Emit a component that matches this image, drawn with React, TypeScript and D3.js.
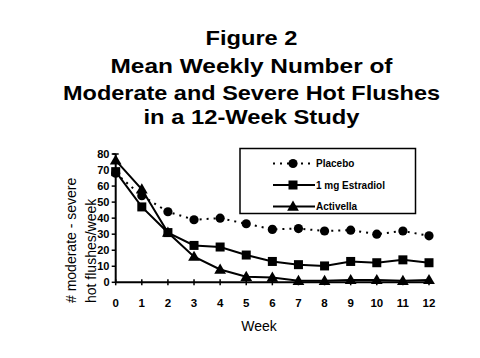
import * as d3 from 'd3';

const weeks = [0, 1, 2, 3, 4, 5, 6, 7, 8, 9, 10, 11, 12];
const placebo = [68, 54, 44, 39, 40, 36.5, 33, 33.5, 32, 32.5, 30, 32, 29];
const estradiol = [69, 47, 31, 23, 22, 17, 13, 11, 10.2, 13, 12.2, 14, 12.2];
const activella = [76, 58, 31, 16, 8, 3.5, 3, 1, 1, 1.5, 1.5, 1, 1.5];
const yTicks = [0, 10, 20, 30, 40, 50, 60, 70, 80];
const titleLines = [
  'Figure 2',
  'Mean Weekly Number of',
  'Moderate and Severe Hot Flushes',
  'in a 12-Week Study',
];
const legendLabels = ['Placebo', '1 mg Estradiol', 'Activella'];

const x = d3.scaleLinear().domain([0, 12]).range([115.7, 429]);
const y = d3.scaleLinear().domain([0, 80]).range([282.3, 154]);

const line = d3
  .line<number>()
  .x((_, i) => x(weeks[i]))
  .y((d) => y(d));

function Marker({ kind, cx, cy }: { kind: string; cx: number; cy: number }) {
  if (kind === 'circle') return <circle cx={cx} cy={cy} r={4.6} fill="#000" />;
  if (kind === 'square')
    return <rect x={cx - 4.5} y={cy - 4.5} width={9} height={9} fill="#000" />;
  const tri = d3.symbol(d3.symbolTriangle, 60)()!;
  return <path d={tri} transform={`translate(${cx},${cy + 0.8})`} fill="#000" />;
}

const series = [
  { data: placebo, kind: 'circle', dash: '2,5' },
  { data: estradiol, kind: 'square', dash: undefined },
  { data: activella, kind: 'triangle', dash: undefined },
];

export default function App() {
  const titleY = [45, 72.5, 99.5, 124];
  const titleSize = [20, 20.5, 20.5, 20.5];
  const titleWidth = [92, 282, 377, 216];
  const legendY = [163.5, 185, 206.5];
  const font = "'Liberation Sans', Arial, sans-serif";
  return (
    <svg
      width={480}
      height={358}
      style={{ position: 'absolute', left: 0, top: 0, background: '#fff' }}
    >
      <rect width={480} height={358} fill="#fff" />
      {titleLines.map((t, i) => (
        <text
          key={t}
          x={251.5}
          y={titleY[i]}
          textAnchor="middle"
          textLength={titleWidth[i]}
          lengthAdjust="spacingAndGlyphs"
          fontFamily={font}
          fontWeight={700}
          fontSize={titleSize[i]}
          fill="#000"
        >
          {t}
        </text>
      ))}

      {/* axes */}
      <line x1={x(0)} x2={x(0)} y1={y(0)} y2={y(80)} stroke="#000" strokeWidth={2} />
      <line x1={x(0)} x2={x(12) + 2} y1={y(0)} y2={y(0)} stroke="#000" strokeWidth={2} />
      {yTicks.map((t) => (
        <g key={t}>
          <line x1={x(0) - 4} x2={x(0)} y1={y(t)} y2={y(t)} stroke="#000" strokeWidth={1.5} />
          <text
            x={109.5}
            y={y(t) + 4}
            textAnchor="end"
            fontFamily={font}
            fontWeight={700}
            fontSize={11}
            fill="#000"
          >
            {t}
          </text>
        </g>
      ))}
      <line x1={x(0) - 3} x2={x(0) + 3} y1={y(80)} y2={y(80)} stroke="#000" strokeWidth={1.5} />
      {weeks.map((w) => (
        <g key={w}>
          <line x1={x(w)} x2={x(w)} y1={y(0) - 3} y2={y(0) + 3} stroke="#000" strokeWidth={1.5} />
          <text
            x={x(w)}
            y={307}
            textAnchor="middle"
            fontFamily={font}
            fontWeight={700}
            fontSize={11.5}
            fill="#000"
          >
            {w}
          </text>
        </g>
      ))}
      <text x={259} y={331} textAnchor="middle" fontFamily={font} fontSize={14} fill="#000">
        Week
      </text>
      <text transform="translate(76,303) rotate(-90)" fontFamily={font} fontSize={14} fill="#000">
        # moderate - severe
      </text>
      <text transform="translate(96,303) rotate(-90)" fontFamily={font} fontSize={14} fill="#000">
        hot flushes/week
      </text>

      {/* series */}
      {series.map((s) => (
        <g key={s.kind}>
          <path
            d={line(s.data)!}
            fill="none"
            stroke="#000"
            strokeWidth={2}
            strokeDasharray={s.dash}
          />
          {s.data.map((v, i) => (
            <Marker key={i} kind={s.kind} cx={x(weeks[i])} cy={y(v)} />
          ))}
        </g>
      ))}

      {/* legend */}
      <rect x={240} y={148.5} width={175.5} height={65} fill="#fff" stroke="#000" strokeWidth={1.5} />
      {series.map((s, i) => (
        <g key={s.kind}>
          <line
            x1={273}
            x2={315}
            y1={legendY[i]}
            y2={legendY[i]}
            stroke="#000"
            strokeWidth={2}
            strokeDasharray={s.dash}
          />
          <Marker kind={s.kind} cx={293} cy={legendY[i]} />
          <text
            x={316}
            y={legendY[i] + 3.5}
            fontFamily={font}
            fontWeight={700}
            fontSize={10}
            fill="#000"
          >
            {legendLabels[i]}
          </text>
        </g>
      ))}
    </svg>
  );
}
